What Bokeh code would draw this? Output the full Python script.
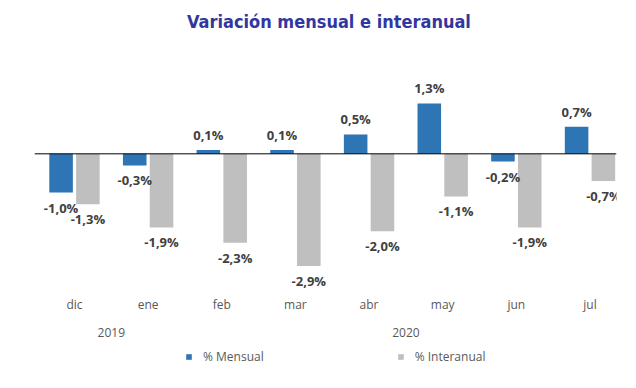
from bokeh.plotting import figure
from bokeh.layouts import column
from bokeh.models import (ColumnDataSource, Range1d, FixedTicker, LinearAxis,
                          Span, Legend, LegendItem, Div)
from bokeh.transform import dodge
from bokeh.core.properties import value
from bokeh.embed import file_html
from bokeh.resources import INLINE

# ---- data ----
title_text = "Variación mensual e interanual"
months = ["dic", "ene", "feb", "mar", "abr", "may", "jun", "jul"]
mensual = [-1.0, -0.3, 0.1, 0.1, 0.5, 1.3, -0.2, 0.7]
interanual = [-1.3, -1.9, -2.3, -2.9, -2.0, -1.1, -1.9, -0.7]
years = ["2019", "2020"]
year_first_month = ["dic", "feb"]
year_last_month = ["ene", "jul"]
series_names = ["% Mensual", "% Interanual"]

BLUE = "#2E75B6"
GREY = "#BFBFBF"
LABEL = "#404040"
AXIS = "#595959"
TITLE = "#3236A0"


def fmt(v):
    return ("%.1f" % v).replace(".", ",") + "%"


x = list(range(len(months)))
src = ColumnDataSource(dict(
    x=x,
    m=mensual,
    i=interanual,
    m_lab=[fmt(v) for v in mensual],
    i_lab=[fmt(v) for v in interanual],
    m_off=[-15 if v >= 0 else 15 for v in mensual],
    i_off=[-15 if v >= 0 else 15 for v in interanual],
))

# title strip
head = Div(text=title_text, width=628, height=44, margin=0,
           styles={"font-family": "'DejaVu Sans Condensed', 'DejaVu Sans', sans-serif",
                   "font-weight": "bold", "font-size": "18px",
                   "line-height": "44px", "color": TITLE,
                   "padding-left": "187px", "white-space": "nowrap"})

p = figure(width=628, height=301, output_backend="svg", toolbar_location=None,
           x_range=Range1d(-0.543, 7.36), y_range=Range1d(-3.53, 2.41),
           y_axis_location=None, min_border_left=34, min_border_right=12,
           min_border_top=16, min_border_bottom=55)
p.outline_line_color = None
p.grid.visible = False

W = 0.32
OFF = 0.182
r1 = p.vbar(x=dodge("x", -OFF), top="m", bottom=0, width=W, source=src,
            fill_color=BLUE, line_color=None)
r2 = p.vbar(x=dodge("x", OFF), top="i", bottom=0, width=W, source=src,
            fill_color=GREY, line_color=None)

p.add_layout(Span(location=0, dimension="width", line_color="black", line_width=1))

for col, lab, off, dx in (("m", "m_lab", "m_off", -OFF), ("i", "i_lab", "i_off", OFF)):
    p.text(x=dodge("x", dx), y=col, text=lab, y_offset=off, source=src,
           text_align="center", text_baseline="middle",
           text_font=value("Open Sans"), text_font_style="bold",
           text_font_size="13px", text_color=LABEL)

# month axis
ax = p.xaxis[0]
ax.ticker = FixedTicker(ticks=x)
ax.major_label_overrides = {i: m for i, m in enumerate(months)}
ax.axis_line_color = None
ax.major_tick_line_color = None
ax.minor_tick_line_color = None
ax.major_tick_out = 0
ax.major_tick_in = 0
ax.major_label_standoff = 5
ax.major_label_text_font = "Open Sans"
ax.major_label_text_font_size = "12px"
ax.major_label_text_color = AXIS

# year axis
year_pos = [(months.index(a) + months.index(b)) / 2
            for a, b in zip(year_first_month, year_last_month)]
ax2 = LinearAxis(ticker=FixedTicker(ticks=year_pos),
                 major_label_overrides={pos: y for pos, y in zip(year_pos, years)})
ax2.axis_line_color = None
ax2.major_tick_line_color = None
ax2.minor_tick_line_color = None
ax2.major_tick_out = 0
ax2.major_tick_in = 0
ax2.major_label_standoff = 12
ax2.major_label_text_font = "Open Sans"
ax2.major_label_text_font_size = "12px"
ax2.major_label_text_color = AXIS
p.add_layout(ax2, "below")

# legend strip (separate figure below the chart, its bars lie outside its view)
q = figure(width=628, height=35, output_backend="svg", toolbar_location=None,
           x_range=Range1d(0, 1), y_range=Range1d(10, 11),
           x_axis_location=None, y_axis_location=None,
           min_border_left=0, min_border_right=0, min_border_top=0,
           min_border_bottom=0)
q.outline_line_color = None
q.grid.visible = False
lr1 = q.vbar(x="x", top="m", bottom=0, width=0.3, source=src,
             fill_color=BLUE, line_color=None)
lr2 = q.vbar(x="x", top="i", bottom=0, width=0.3, source=src,
             fill_color=GREY, line_color=None)

legend = Legend(items=[LegendItem(label=series_names[0], renderers=[lr1]),
                       LegendItem(label=series_names[1], renderers=[lr2])],
                orientation="horizontal", location=(151, 15),
                glyph_width=7, glyph_height=7, label_standoff=11, spacing=133,
                label_height=17,
                padding=0, margin=0, border_line_color=None,
                background_fill_alpha=0,
                label_text_font="Open Sans", label_text_font_size="12px",
                label_text_color=AXIS)
q.add_layout(legend, "center")

layout = column(head, p, q, spacing=0)
open("out.html", "w").write(file_html(layout, INLINE))
